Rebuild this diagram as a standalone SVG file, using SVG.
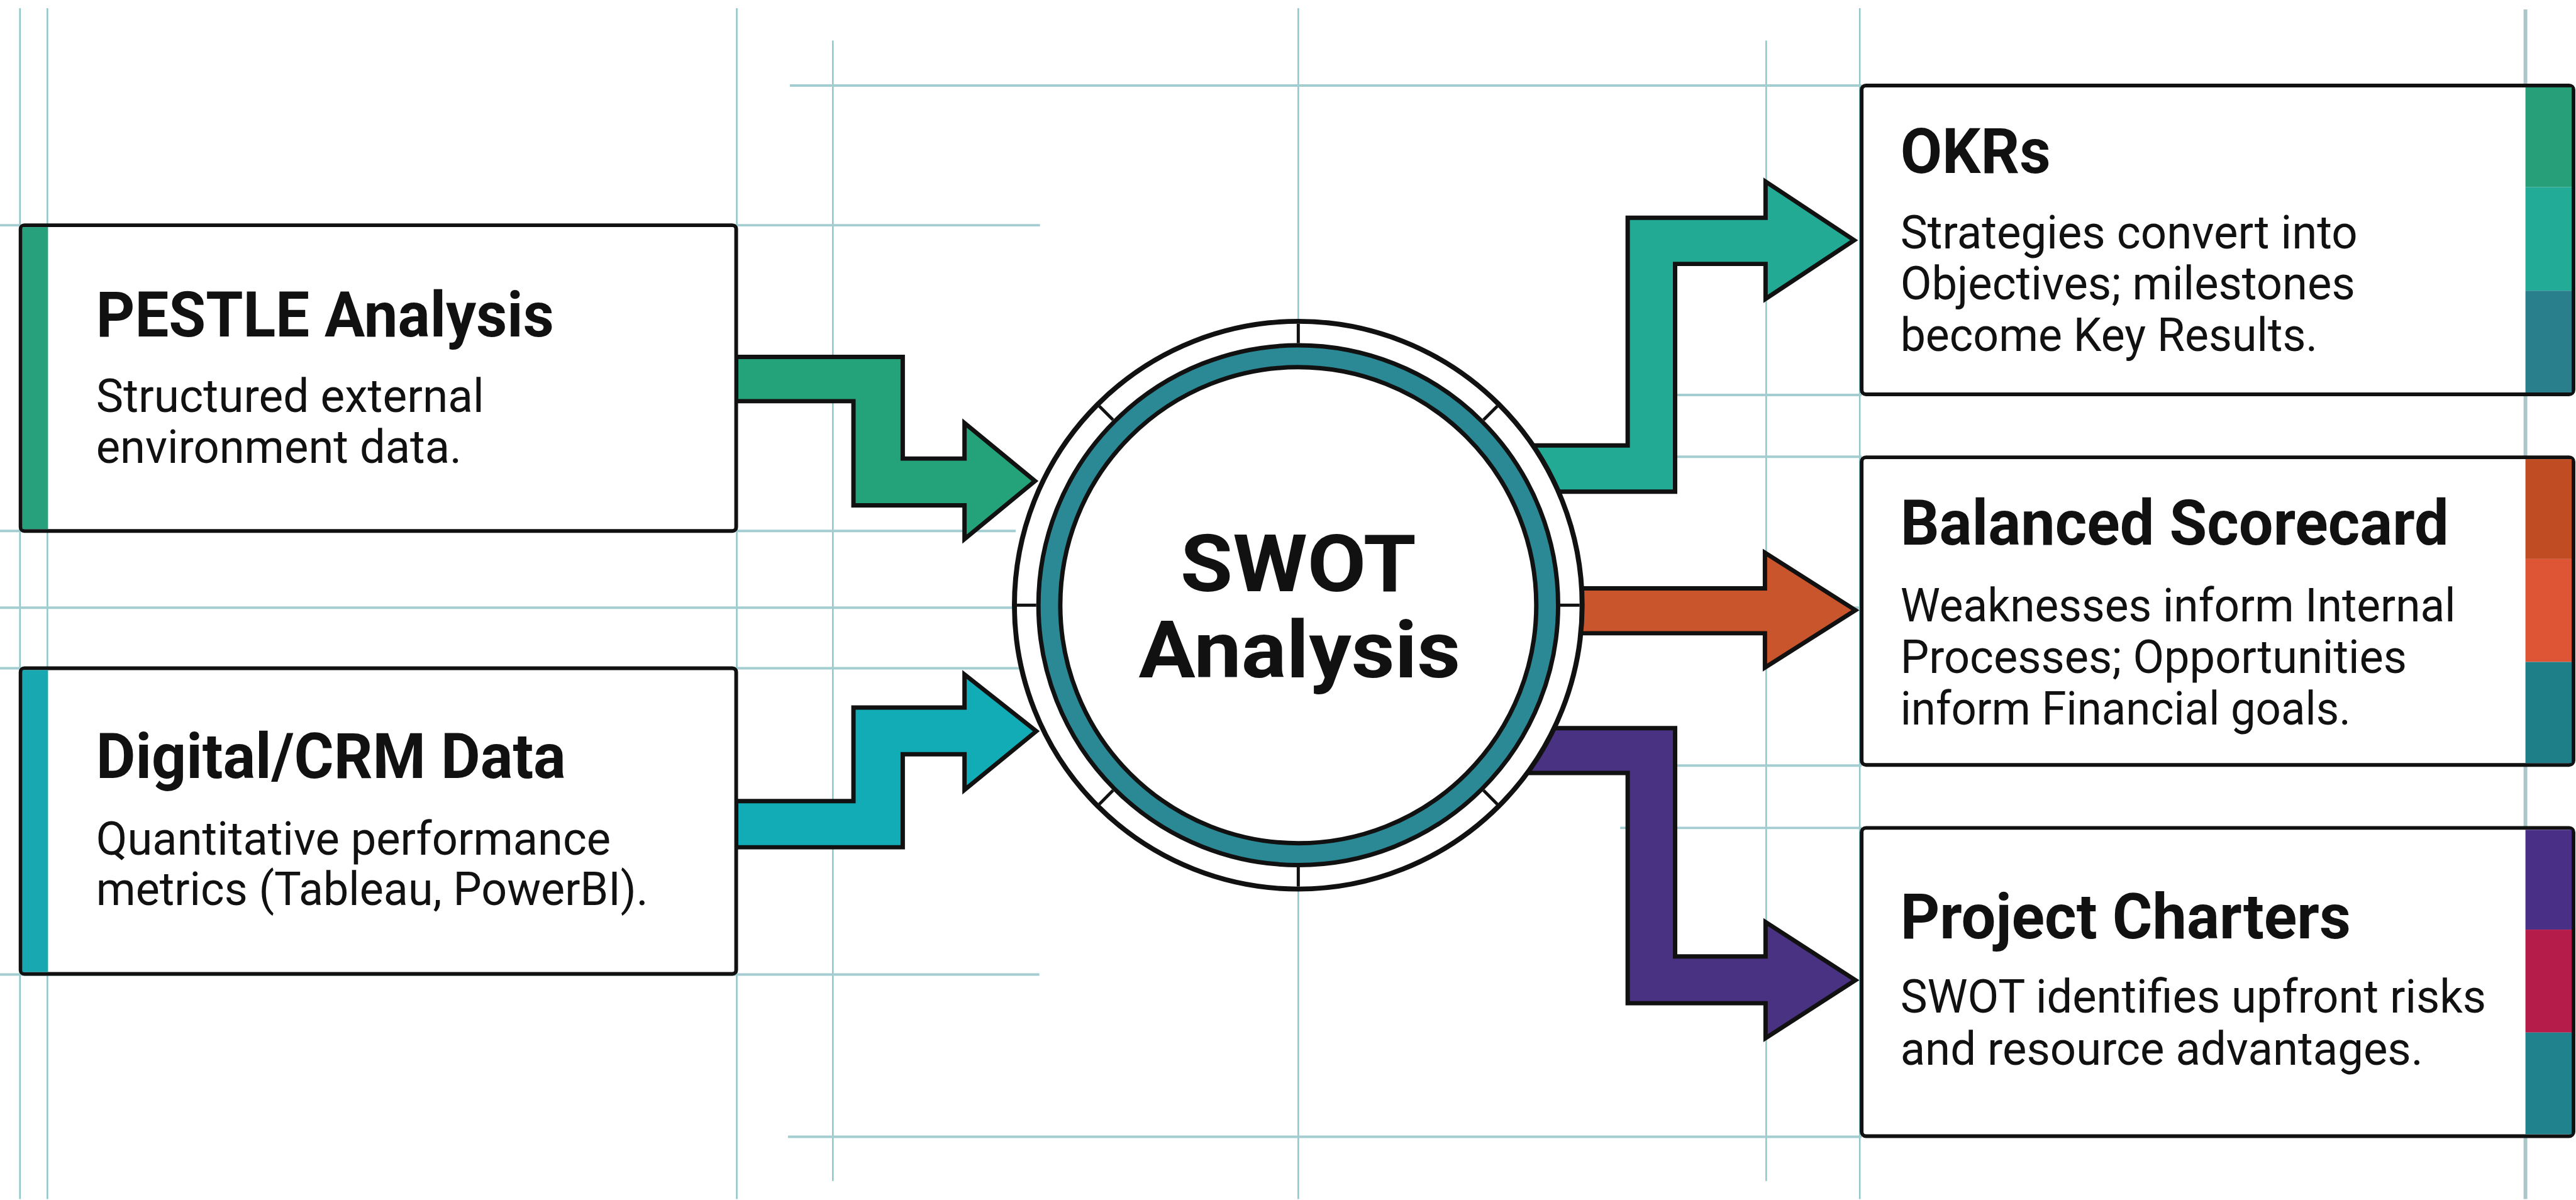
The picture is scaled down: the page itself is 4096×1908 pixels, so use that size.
<svg xmlns="http://www.w3.org/2000/svg" width="4096" height="1908" viewBox="0 0 4096 1908">
<style>
.gv{stroke:#8cc6ca;stroke-width:2.5;fill:none}
.gh{stroke:#a3cdd0;stroke-width:4;fill:none}
.box{fill:#fff;stroke:#111;stroke-width:6}
.arrow{stroke:#111;stroke-width:7;stroke-linejoin:miter}
.t{font-family:Roboto,'Liberation Sans',Arial,sans-serif;font-weight:700;font-size:100px;fill:#111}
.d{font-family:Roboto,'Liberation Sans',Arial,sans-serif;font-weight:400;font-size:74px;fill:#111}
.c{font-family:Roboto,'Liberation Sans',Arial,sans-serif;font-weight:700;font-size:128px;fill:#111}
.tick{stroke:#111;stroke-width:5}
</style>
<rect width="4096" height="1908" fill="#fff"/>
<g transform="scale(0.992)">
<g id="grid">
<line class="gv" x1="32" y1="13" x2="32" y2="1922"/>
<line class="gv" x1="76" y1="13" x2="76" y2="1922"/>
<line class="gv" x1="1181" y1="13" x2="1181" y2="1922"/>
<line class="gv" x1="1335" y1="65" x2="1335" y2="1893"/>
<line class="gv" x1="2081" y1="13" x2="2081" y2="1922"/>
<line class="gv" x1="2831" y1="65" x2="2831" y2="1893"/>
<line class="gv" x1="2981" y1="13" x2="2981" y2="1922"/>
<line class="gv" x1="4048" y1="15" x2="4048" y2="1922" style="stroke:#a9c6ca;stroke-width:6"/>
<line class="gh" x1="1266" y1="137" x2="2984" y2="137"/>
<line class="gh" x1="0" y1="361" x2="1667" y2="361"/>
<line class="gh" x1="2687" y1="633" x2="2984" y2="633"/>
<line class="gh" x1="2687" y1="732" x2="2984" y2="732"/>
<line class="gh" x1="0" y1="851" x2="1628" y2="851"/>
<line class="gh" x1="0" y1="974" x2="1622" y2="974"/>
<line class="gh" x1="2540" y1="974" x2="2984" y2="974"/>
<line class="gh" x1="0" y1="1071" x2="1640" y2="1071"/>
<line class="gh" x1="2687" y1="1227" x2="2984" y2="1227"/>
<line class="gh" x1="2597" y1="1327" x2="2984" y2="1327"/>
<line class="gh" x1="0" y1="1562" x2="1666" y2="1562"/>
<line class="gh" x1="1263" y1="1822" x2="2984" y2="1822"/>
</g>
<g id="connectors">
<path class="arrow" fill="#24a37b" d="M1180 572 H1447 V735 H1546 V678 L1659 771 L1546 864 V810 H1368 V643 H1180 Z"/>
<path class="arrow" fill="#12acb7" d="M1180 1284 H1368 V1134 H1546 V1081 L1661 1172 L1546 1266 V1209 H1447 V1358 H1180 Z"/>
<path class="arrow" fill="#22aa94" d="M2400 714 H2609 V349 H2830 V291 L2972 385 L2830 479 V423 H2685 V788 H2400 Z"/>
<path class="arrow" fill="#c8552b" d="M2400 943 H2829 V886 L2974 978 L2829 1070 V1015 H2400 Z"/>
<path class="arrow" fill="#4a3283" d="M2400 1167 H2685 V1533 H2830 V1478 L2974 1571 L2830 1664 V1608 H2609 V1239 H2400 Z"/>
</g>
<g id="swot">
<circle cx="2081" cy="970" r="455" fill="#fff" stroke="#111" stroke-width="8"/>
<circle cx="2081" cy="970" r="399" fill="#fff" stroke="#111" stroke-width="42"/>
<circle cx="2081" cy="970" r="399" fill="none" stroke="#2b8995" stroke-width="28"/>
<line class="tick" x1="2501" y1="970" x2="2532" y2="970"/>
<line class="tick" x1="1630" y1="970" x2="1661" y2="970"/>
<line class="tick" x1="2081" y1="1390" x2="2081" y2="1421"/>
<line class="tick" x1="2081" y1="519" x2="2081" y2="550"/>
<line class="tick" x1="2378" y1="1267" x2="2400" y2="1289"/>
<line class="tick" x1="1784" y1="1267" x2="1762" y2="1289"/>
<line class="tick" x1="1784" y1="673" x2="1762" y2="651"/>
<line class="tick" x1="2378" y1="673" x2="2400" y2="651"/>
<text class="c" x="2081" y="948" text-anchor="middle" textLength="378" lengthAdjust="spacingAndGlyphs">SWOT</text>
<text class="c" x="2083" y="1086" text-anchor="middle" textLength="516" lengthAdjust="spacingAndGlyphs">Analysis</text>
</g>
<g id="pestle">
<rect class="box" x="33" y="361" width="1147" height="490" rx="6"/>
<rect x="36" y="364" width="41" height="484" fill="#27a07c"/>
<text class="t" x="154" y="539" textLength="734" lengthAdjust="spacingAndGlyphs">PESTLE Analysis</text>
<text class="d" x="154" y="660" textLength="622" lengthAdjust="spacingAndGlyphs">Structured external</text>
<text class="d" x="154" y="742" textLength="586" lengthAdjust="spacingAndGlyphs">environment data.</text>
</g>
<g id="digital">
<rect class="box" x="33" y="1071" width="1147" height="490" rx="6"/>
<rect x="36" y="1074" width="41" height="484" fill="#17a8b2"/>
<text class="t" x="154" y="1247" textLength="753" lengthAdjust="spacingAndGlyphs">Digital/CRM Data</text>
<text class="d" x="154" y="1370" textLength="825" lengthAdjust="spacingAndGlyphs">Quantitative performance</text>
<text class="d" x="154" y="1451" textLength="885" lengthAdjust="spacingAndGlyphs">metrics (Tableau, PowerBI).</text>
</g>
<g id="okrs">
<rect class="box" x="2984" y="137" width="1141" height="495" rx="7"/>
<rect x="4048" y="140" width="74" height="160" fill="#27a07a"/>
<rect x="4048" y="300" width="74" height="166" fill="#22ac98"/>
<rect x="4048" y="466" width="74" height="163" fill="#2a7f8c"/>
<text class="t" x="3046" y="277" textLength="241" lengthAdjust="spacingAndGlyphs">OKRs</text>
<text class="d" x="3046" y="398" textLength="733" lengthAdjust="spacingAndGlyphs">Strategies convert into</text>
<text class="d" x="3046" y="480" textLength="729" lengthAdjust="spacingAndGlyphs">Objectives; milestones</text>
<text class="d" x="3046" y="563" textLength="669" lengthAdjust="spacingAndGlyphs">become Key Results.</text>
</g>
<g id="balanced">
<rect class="box" x="2984" y="733" width="1141" height="493" rx="7"/>
<rect x="4048" y="736" width="74" height="160" fill="#bf4c22"/>
<rect x="4048" y="896" width="74" height="165" fill="#dd5535"/>
<rect x="4048" y="1061" width="74" height="162" fill="#1f7f88"/>
<text class="t" x="3046" y="873" textLength="879" lengthAdjust="spacingAndGlyphs">Balanced Scorecard</text>
<text class="d" x="3046" y="996" textLength="890" lengthAdjust="spacingAndGlyphs">Weaknesses inform Internal</text>
<text class="d" x="3046" y="1079" textLength="812" lengthAdjust="spacingAndGlyphs">Processes; Opportunities</text>
<text class="d" x="3046" y="1161" textLength="722" lengthAdjust="spacingAndGlyphs">inform Financial goals.</text>
</g>
<g id="charters">
<rect class="box" x="2984" y="1327" width="1141" height="494" rx="7"/>
<rect x="4048" y="1330" width="74" height="160" fill="#4a2f86"/>
<rect x="4048" y="1490" width="74" height="165" fill="#b51c4a"/>
<rect x="4048" y="1655" width="74" height="163" fill="#1f828c"/>
<text class="t" x="3046" y="1504" textLength="722" lengthAdjust="spacingAndGlyphs">Project Charters</text>
<text class="d" x="3046" y="1623" textLength="939" lengthAdjust="spacingAndGlyphs">SWOT identifies upfront risks</text>
<text class="d" x="3046" y="1707" textLength="838" lengthAdjust="spacingAndGlyphs">and resource advantages.</text>
</g>
</g>
</svg>
